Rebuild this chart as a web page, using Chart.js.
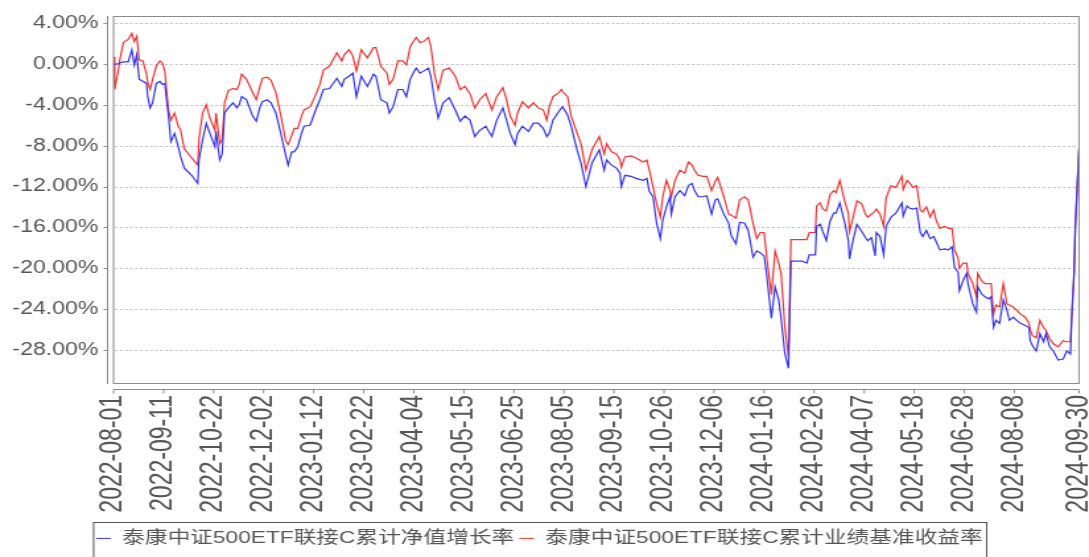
<!DOCTYPE html>
<html>
<head>
<meta charset="utf-8">
<title>泰康中证500ETF联接C</title>
<script src="https://cdn.jsdelivr.net/npm/chart.js@4.4.1/dist/chart.umd.min.js"></script>
<style>
html,body{margin:0;padding:0;background:#fff;overflow:hidden;}
/* the source image is a chart drawn narrower and stretched sideways */
#wrap{width:825px;height:557px;transform:scaleX(1.32);transform-origin:0 0;}
</style>
</head>
<body>
<div id="wrap"><canvas id="cv" width="825" height="557"></canvas></div>
<script>
// days since 2022-08-01
var startDate = '2022-08-01';
var days = [
  0,1,4,5,8,12,15,17,19,21,
  24,27,28,30,32,35,38,40,42,45,
  47,50,53,55,58,64,69,70,73,76,
  79,83,84,87,89,91,94,98,101,103,
  105,109,114,117,120,122,126,129,133,137,
  141,143,146,148,151,154,156,161,165,169,
  172,177,183,187,189,193,196,199,203,208,
  213,215,219,224,226,229,233,237,240,243,
  245,248,251,254,258,260,263,266,270,275,
  280,284,288,292,296,300,305,310,314,319,
  322,325,329,331,335,340,344,348,352,355,
  357,360,364,367,368,372,375,379,383,387,
  392,398,402,404,408,412,415,416,419,424,
  428,434,437,439,442,445,448,450,453,456,
  457,460,464,468,471,474,476,479,483,486,
  490,493,495,500,504,506,510,513,517,520,
  524,527,530,533,535,539,542,545,547,550,
  553,555,560,564,568,570,575,576,579,581,
  584,587,590,592,595,599,602,603,606,609,
  613,616,618,621,624,625,628,631,633,637,
  641,646,647,650,652,655,658,661,663,666,
  669,672,674,677,681,684,687,689,692,693,
  696,699,700,702,704,707,708,711,714,717,
  719,721,723,726,729,732,734,737,740,743,
  747,750,751,753,756,759,762,764,767,770,
  774,778,781,784,785,787,788,791
];

// 累计净值增长率 (%)
var navGrowth = [
  0.0,0.0,0.0,0.1,0.2,0.2,1.4,-0.1,0.9,-1.5,
  -1.7,-1.9,-3.2,-4.3,-3.8,-1.9,-1.7,-2.0,-1.9,-5.1,
  -7.6,-6.8,-8.1,-9.1,-10.2,-10.9,-11.7,-9.4,-7.4,-5.8,
  -6.8,-8.1,-6.6,-9.4,-8.8,-4.8,-4.3,-3.8,-4.3,-4.0,
  -3.2,-3.5,-5.1,-5.6,-4.2,-3.7,-3.5,-3.8,-4.8,-6.8,
  -8.9,-9.9,-8.6,-8.6,-8.1,-6.8,-6.1,-6.0,-4.7,-3.5,
  -2.5,-2.4,-1.4,-2.2,-1.5,-1.2,-0.9,-3.2,-1.2,-2.2,
  -1.0,-1.2,-3.5,-3.8,-4.8,-4.2,-2.5,-2.5,-3.2,-1.5,
  -1.0,-0.4,-0.9,-0.7,-0.4,-1.2,-3.5,-5.3,-3.8,-3.3,
  -4.5,-5.6,-5.1,-5.5,-7.1,-6.5,-6.1,-7.1,-5.5,-4.3,
  -5.5,-6.8,-7.9,-6.8,-6.1,-6.6,-5.8,-5.8,-6.3,-7.1,
  -6.8,-5.5,-4.8,-4.3,-4.2,-5.0,-6.1,-8.1,-9.7,-12.0,
  -9.7,-8.4,-10.4,-9.4,-9.9,-10.2,-10.7,-12.0,-10.9,-11.0,
  -11.2,-11.4,-11.2,-12.5,-13.0,-15.6,-17.1,-15.3,-14.0,-13.0,
  -14.7,-13.0,-12.4,-12.9,-11.9,-11.7,-12.4,-13.0,-13.0,-12.9,
  -14.7,-13.3,-13.2,-14.7,-15.6,-16.8,-17.6,-15.5,-15.6,-16.3,
  -18.9,-18.3,-18.5,-18.8,-20.5,-24.9,-21.8,-23.1,-25.0,-28.3,
  -29.8,-19.3,-19.3,-19.3,-19.5,-18.7,-18.7,-15.9,-15.7,-16.4,
  -17.3,-15.4,-14.6,-14.6,-13.6,-15.5,-17.3,-19.1,-17.2,-15.7,
  -16.4,-17.0,-17.3,-17.0,-18.8,-16.5,-16.9,-18.7,-15.9,-15.0,
  -14.6,-13.6,-14.9,-13.9,-14.1,-14.2,-14.1,-16.5,-16.9,-16.3,
  -17.1,-16.9,-17.4,-18.2,-18.1,-18.2,-17.9,-19.9,-20.4,-22.2,
  -21.2,-20.5,-21.5,-22.5,-23.5,-24.3,-21.8,-22.5,-22.8,-23.0,
  -22.8,-25.8,-25.1,-25.4,-23.1,-24.1,-25.1,-24.8,-25.1,-25.4,
  -25.6,-25.8,-27.1,-27.6,-28.1,-26.4,-27.2,-26.4,-27.7,-28.1,
  -29.0,-28.9,-28.1,-28.4,-25.0,-20.5,-16.0,-8.3
];

// 累计业绩基准收益率 (%)
var benchReturn = [
  0.7,-2.5,-0.6,0.3,2.1,2.4,3.0,2.2,2.7,0.4,
  0.3,-1.0,-1.8,-2.5,-1.5,-0.2,0.3,0.1,-0.7,-4.5,
  -5.5,-4.8,-6.1,-6.5,-8.3,-9.2,-9.9,-7.4,-4.8,-4.0,
  -5.3,-6.5,-4.8,-7.8,-7.4,-3.8,-2.6,-2.4,-2.5,-2.0,
  -1.0,-1.5,-2.8,-3.5,-2.2,-1.4,-1.3,-1.6,-2.8,-5.0,
  -7.5,-7.9,-7.0,-6.3,-6.3,-5.1,-4.5,-4.2,-3.2,-2.0,
  -0.6,-0.2,1.1,0.3,0.9,1.4,0.8,-0.7,1.4,0.6,
  1.6,1.6,-0.2,-0.9,-2.0,-1.5,0.3,0.3,-0.1,1.7,
  2.1,2.6,2.1,2.2,2.6,1.7,-1.0,-2.5,-0.6,-0.4,
  -1.2,-2.5,-2.2,-2.9,-4.3,-3.5,-2.9,-4.5,-3.2,-2.3,
  -3.5,-5.1,-6.0,-4.8,-3.7,-4.3,-3.8,-4.3,-4.5,-5.5,
  -4.2,-3.2,-2.9,-2.5,-2.7,-3.2,-5.1,-6.5,-7.8,-10.4,
  -8.4,-7.1,-8.8,-7.8,-8.6,-8.8,-9.4,-10.1,-9.1,-9.0,
  -9.2,-9.6,-9.4,-10.4,-12.0,-13.7,-15.0,-13.0,-11.4,-12.4,
  -13.0,-11.4,-10.4,-10.7,-9.6,-9.9,-10.4,-10.9,-11.0,-11.0,
  -12.4,-11.5,-11.1,-13.0,-14.7,-14.8,-15.1,-13.3,-13.0,-13.3,
  -15.6,-17.1,-16.5,-16.5,-18.7,-22.6,-18.3,-19.5,-20.6,-25.7,
  -28.7,-17.2,-17.2,-17.2,-17.2,-16.5,-16.5,-13.9,-13.6,-14.2,
  -14.4,-12.8,-12.4,-12.6,-11.4,-13.4,-14.6,-16.4,-15.0,-13.4,
  -13.7,-14.7,-15.0,-14.7,-14.4,-14.2,-14.7,-15.9,-13.1,-11.9,
  -12.1,-11.0,-12.3,-11.4,-11.6,-12.1,-11.9,-14.3,-14.5,-14.0,
  -15.0,-14.3,-15.3,-16.1,-15.9,-16.1,-16.1,-18.2,-19.0,-20.0,
  -19.5,-19.5,-20.5,-21.0,-21.5,-22.8,-20.5,-21.2,-21.5,-21.5,
  -21.5,-24.5,-23.6,-23.8,-21.5,-23.5,-23.6,-23.8,-24.1,-24.5,
  -24.8,-25.4,-26.0,-26.6,-26.8,-25.1,-25.8,-26.1,-26.9,-27.4,
  -27.7,-27.1,-27.2,-27.2,-24.8,-20.3,-16.0,-8.5
];

var xTickLabels = ['2022-08-01','2022-09-11','2022-10-22','2022-12-02','2023-01-12',
  '2023-02-22','2023-04-04','2023-05-15','2023-06-25','2023-08-05','2023-09-15',
  '2023-10-26','2023-12-06','2024-01-16','2024-02-26','2024-04-07','2024-05-18',
  '2024-06-28','2024-08-08','2024-09-30'];
var yTickValues = [4,0,-4,-8,-12,-16,-20,-24,-28];
var seriesNames = ['泰康中证500ETF联接C累计净值增长率','泰康中证500ETF联接C累计业绩基准收益率'];

function dayOf(s){
  return Math.round((Date.parse(s) - Date.parse(startDate)) / 86400000);
}
function pts(vals){
  return days.map(function(d,i){ return {x:d, y:vals[i]}; });
}

var framePlugin = {
  id: 'frame',
  beforeDatasetsDraw: function(chart){
    // dashed horizontal grid
    var ctx = chart.ctx, a = chart.chartArea, ys = chart.scales.y;
    ctx.save();
    ctx.strokeStyle = '#c4c4c4';
    ctx.lineWidth = 1;
    ctx.setLineDash([2.2, 1.6]);
    ctx.beginPath();
    ys.ticks.forEach(function(t){
      var py = Math.round(ys.getPixelForValue(t.value)) + 0.5;
      ctx.moveTo(a.left + 1, py); ctx.lineTo(a.right - 2, py);
    });
    ctx.stroke();
    ctx.restore();
  },
  afterDraw: function(chart){
    var ctx = chart.ctx, a = chart.chartArea;
    var xs = chart.scales.x, ys = chart.scales.y;
    ctx.save();
    ctx.strokeStyle = '#8a8a8a';
    ctx.lineWidth = 1;
    ctx.strokeRect(a.left, a.top + 0.5, a.right - a.left, a.bottom - a.top);
    var ax = a.left - 4.5, ay = a.bottom + 6.5;
    ctx.beginPath();
    ctx.moveTo(ax, a.top); ctx.lineTo(ax, a.bottom + 1);
    ys.ticks.forEach(function(t){
      var py = Math.round(ys.getPixelForValue(t.value)) + 0.5;
      ctx.moveTo(ax - 3, py); ctx.lineTo(ax, py);
    });
    ctx.moveTo(a.left, ay); ctx.lineTo(a.right, ay);
    xs.ticks.forEach(function(t){
      var px = xs.getPixelForValue(t.value);
      ctx.moveTo(px, ay); ctx.lineTo(px, ay + 4);
    });
    ctx.stroke();
    // box round the legend
    var hb = chart.legend.legendHitBoxes;
    if (hb && hb.length) {
      var l = hb[0].left - 2;
      var last = hb[hb.length - 1];
      var r = last.left + last.width + 3;
      var t = hb[0].top - 7.5;
      ctx.strokeStyle = '#555';
      ctx.strokeRect(l, Math.round(t) + 0.5, r - l, 60);
    }
    ctx.restore();
  }
};

Chart.defaults.font.family = '"Liberation Sans", "Noto Sans CJK SC", sans-serif';

new Chart(document.getElementById('cv'), {
  type: 'line',
  data: {
    datasets: [
      {label: seriesNames[0], data: pts(navGrowth), borderColor: '#3434ee', backgroundColor: '#3434ee', order: 1},
      {label: seriesNames[1], data: pts(benchReturn), borderColor: '#ee3434', backgroundColor: '#ee3434', order: 2}
    ]
  },
  options: {
    responsive: false,
    animation: false,
    events: [],
    layout: {padding: {top: 16, right: 7.6, left: 0, bottom: 0}},
    elements: {
      line: {borderWidth: 1.2, tension: 0},
      point: {radius: 0}
    },
    plugins: {
      legend: {
        position: 'bottom',
        labels: {
          font: {size: 17.2},
          color: '#555',
          usePointStyle: true,
          pointStyle: 'line',
          pointStyleWidth: 11,
          padding: 4
        }
      },
      tooltip: {enabled: false}
    },
    scales: {
      x: {
        type: 'linear',
        min: 0,
        max: dayOf(xTickLabels[xTickLabels.length - 1]),
        afterBuildTicks: function(s){
          s.ticks = xTickLabels.map(function(d){ return {value: dayOf(d)}; });
        },
        afterFit: function(s){
          s.height = 557 - 383 - 31.2;
          s.paddingLeft = 0;
          s.paddingRight = 0;
        },
        grid: {display: false, drawTicks: false},
        border: {display: false},
        ticks: {
          autoSkip: false,
          maxRotation: 90,
          minRotation: 90,
          padding: 12,
          color: '#555',
          font: {size: 23},
          callback: function(v, i){ return xTickLabels[i]; }
        }
      },
      y: {
        min: -31.24,
        max: 4.7,
        afterBuildTicks: function(s){
          s.ticks = yTickValues.map(function(v){ return {value: v}; });
        },
        afterFit: function(s){
          s.width = 86;
          s.paddingTop = 0;
          s.paddingBottom = 0;
        },
        grid: {display: false, drawTicks: false},
        border: {display: false},
        ticks: {
          padding: 11.5,
          color: '#555',
          font: {size: 17.5},
          callback: function(v){ return v.toFixed(2) + '%'; }
        }
      }
    }
  },
  plugins: [framePlugin]
});
</script>
</body>
</html>
